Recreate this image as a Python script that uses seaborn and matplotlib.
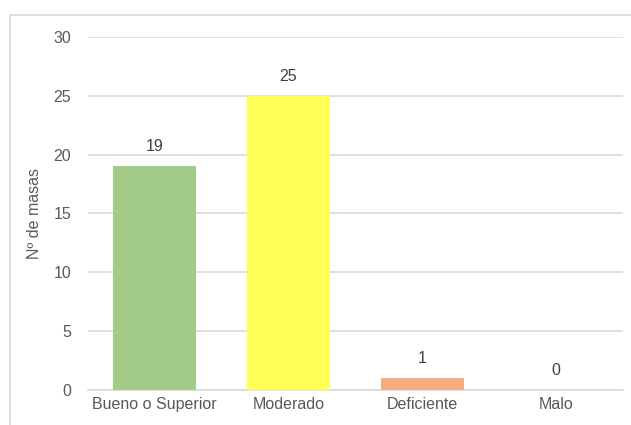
import matplotlib
matplotlib.use("Agg")
import matplotlib.pyplot as plt
from matplotlib.patches import Rectangle
import seaborn as sns
import pandas as pd

categories = ["Bueno o Superior", "Moderado", "Deficiente", "Malo"]
counts = [19, 25, 1, 0]
bar_colors = ["#A2CB87", "#FFFF57", "#F4AE7D", "#B0B0B0"]
y_ticks = [0, 5, 10, 15, 20, 25, 30]
y_label = "Nº de masas"

sns.set_theme(style="white")
plt.rcParams["font.family"] = ["Liberation Sans", "DejaVu Sans"]

df = pd.DataFrame({"estado": categories, "masas": counts})

fig = plt.figure(figsize=(6.31, 4.25), dpi=100)
ax = fig.add_axes([0.139, 0.0824, 0.848, 0.8306])

sns.barplot(data=df, x="estado", y="masas", hue="estado", palette=bar_colors,
            legend=False, width=0.62, saturation=1, linewidth=0, ax=ax, zorder=3)

ax.set_ylim(0, 30)
ax.set_yticks(y_ticks)
ax.set_xlim(-0.5, len(categories) - 0.5)
ax.yaxis.grid(True, color="#D9D9D9", linewidth=1.2, zorder=0)
ax.set_axisbelow(True)
for side in ["top", "right", "left"]:
    ax.spines[side].set_visible(False)
ax.spines["bottom"].set_color("#D9D9D9")
ax.spines["bottom"].set_linewidth(1.2)

fs = 11.5
ax.tick_params(axis="y", length=0, pad=12, labelsize=fs, labelcolor="#595959")
ax.tick_params(axis="x", length=0, pad=5, labelsize=fs, labelcolor="#595959")
ax.set_xlabel("")
ax.set_ylabel(y_label, fontsize=fs, color="#595959", labelpad=8)

for i, v in enumerate(counts):
    ax.annotate(str(v), xy=(i, v), xytext=(0, 14), textcoords="offset points",
                ha="center", va="center", fontsize=fs, color="#404040", zorder=5)

# light frame around the chart area
fig.patches.append(Rectangle((10 / 631, -0.1), 1.2, (425 - 15) / 425 + 0.1,
                             transform=fig.transFigure, fill=False,
                             edgecolor="#D9D9D9", linewidth=1.2))

fig.savefig("out.png", dpi=100)
